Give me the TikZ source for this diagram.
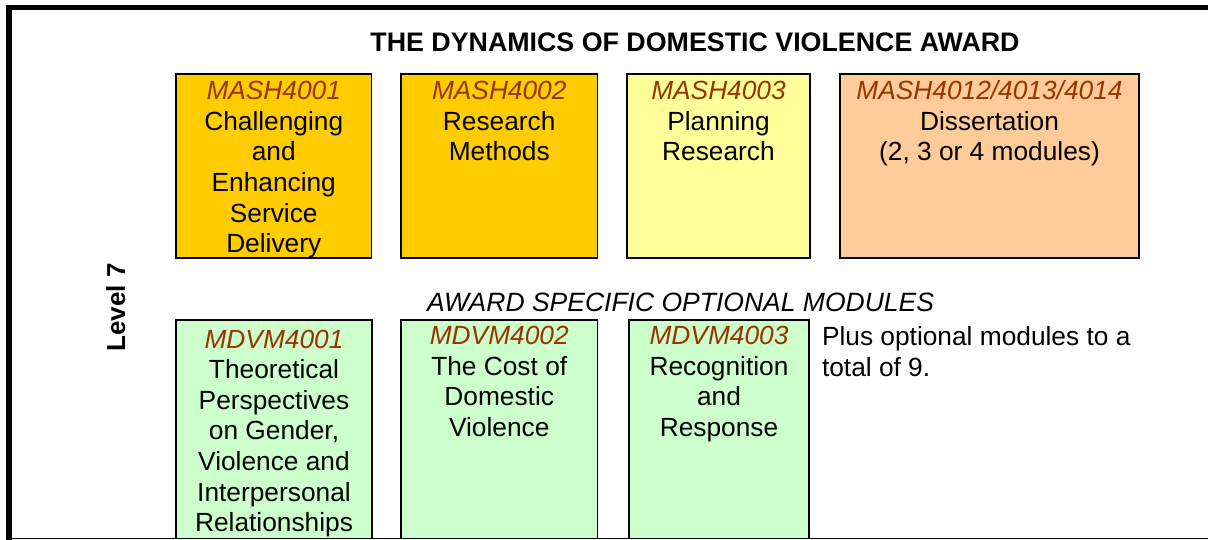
\documentclass[tikz,border=0pt]{standalone}
\usepackage{fontspec}
\setmainfont{Liberation Sans}
\definecolor{codebrown}{HTML}{993300}
\definecolor{gold}{HTML}{FFCC00}
\definecolor{paleyellow}{HTML}{FFFF99}
\definecolor{peach}{HTML}{FFCC99}
\definecolor{palegreen}{HTML}{CCFFCC}
\newcommand{\code}[1]{{\itshape\color{codebrown}\strut #1}}
\begin{document}
\begin{tikzpicture}[x=1bp,y=-1bp,
  box/.style={draw=black, line width=1.3bp, inner sep=0pt, outer sep=0pt, anchor=north west},
  body/.style={font=\fontsize{26.3bp}{30.6bp}\selectfont, inner sep=0pt, outer sep=0pt, align=center, anchor=north},
  plain/.style={font=\fontsize{26.3bp}{30.6bp}\selectfont, inner sep=0pt, outer sep=0pt},
  frame/.style={fill=black}
]
\useasboundingbox (0,0) rectangle (1208,540);
\fill[white] (0,0) rectangle (1208,540);

% outer frame
\fill[frame] (6,5) rectangle (1208,10.5);
\fill[frame] (6,5) rectangle (12,540);
\draw[line width=1.5bp] (12,538.5) -- (1208,538.5);

% title
\node[plain, font=\fontsize{26.8bp}{31bp}\selectfont\bfseries, anchor=base] (title) at (695,52) {THE DYNAMICS OF DOMESTIC VIOLENCE AWARD};

% level label
\node[plain, font=\fontsize{26bp}{30bp}\selectfont\bfseries, anchor=base, rotate=90] (level) at (125,307.5) {Level 7};

% core modules
\node[box, fill=gold, minimum width=195.5bp, minimum height=184bp] (b1) at (176,74) {};
\node[box, fill=gold, minimum width=196.5bp, minimum height=184bp] (b2) at (401,74) {};
\node[box, fill=paleyellow, minimum width=183bp, minimum height=184bp] (b3) at (627,74) {};
\node[box, fill=peach, minimum width=299bp, minimum height=184bp] (b4) at (840,74) {};

\node[body] (t1) at (273.75,78.2) {\code{MASH4001}\\Challenging\\and\\Enhancing\\Service\\Delivery};
\node[body] (t2) at (499.25,78.2) {\code{MASH4002}\\Research\\Methods};
\node[body] (t3) at (718.5,78.2) {\code{MASH4003}\\Planning\\Research};
\node[body] (t4) at (989.5,78.2) {\code{MASH4012/4013/4014}\\Dissertation\\(2, 3 or 4 modules)};

% optional heading
\node[plain, font=\fontsize{26.5bp}{30.6bp}\selectfont\itshape, anchor=base west] (opt) at (427,312) {AWARD SPECIFIC OPTIONAL MODULES};

% optional modules
\node[box, fill=palegreen, minimum width=196bp, minimum height=218.5bp] (g1) at (176,320) {};
\node[box, fill=palegreen, minimum width=196.5bp, minimum height=218.5bp] (g2) at (401,320) {};
\node[box, fill=palegreen, minimum width=180bp, minimum height=218.5bp] (g3) at (629,320) {};
\draw[line width=1.5bp] (g1.south west) -- (g3.south east);

\node[body] (u1) at (274,326.6) {\code{MDVM4001}\\Theoretical\\Perspectives\\on Gender,\\Violence and\\Interpersonal\\Relationships};
\node[body] (u2) at (499.25,323.2) {\code{MDVM4002}\\The Cost of\\Domestic\\Violence};
\node[body] (u3) at (719,323.2) {\code{MDVM4003}\\Recognition\\and\\Response};

\node[body, align=left, anchor=north west] (plus) at (822,324.2) {\strut Plus optional modules to a\\total of 9.};
\end{tikzpicture}
\end{document}
